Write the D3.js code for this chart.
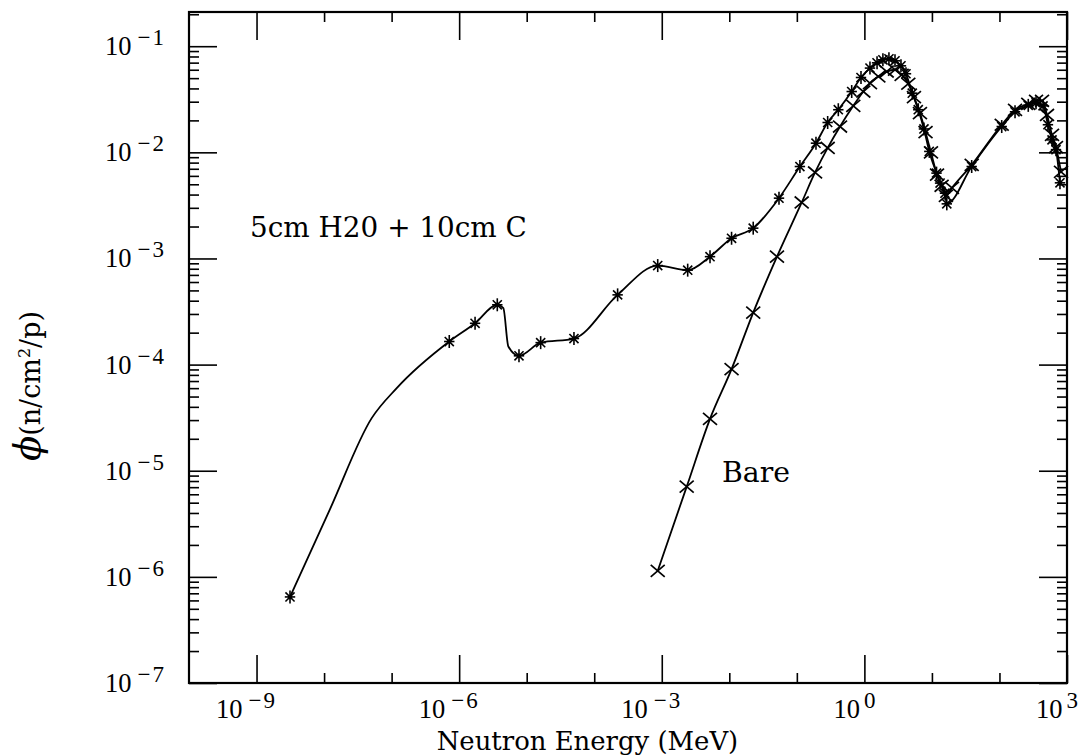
<!DOCTYPE html>
<html><head><meta charset="utf-8">
<script src="https://cdn.jsdelivr.net/npm/d3@7"></script>
<style>html,body{margin:0;padding:0;background:#fff;} svg{display:block}</style>
</head><body><svg id="c" width="1078" height="755"></svg>
<script>
// ---------- data ----------
const xMajorExp = [-9, -6, -3, 0, 3];
const xMinorExp = [-8, -7, -5, -4, -2, -1, 1, 2];
const yMajorExp = [-7, -6, -5, -4, -3, -2, -1];

// "5cm H20 + 10cm C" series (energy MeV, flux); starMark = 1 where a marker is drawn
const starE = [3.13e-9, 1.22e-8, 5.07e-8, 1.19e-7, 7.14e-7, 1.72e-6, 3.67e-6, 4.51e-6, 5.35e-6, 7.69e-6, 1.61e-5,
  5.01e-5, 2.22e-4, 8.71e-4, 2.42e-3, 5.18e-3, 1.08e-2, 2.26e-2, 5.44e-2, 0.111, 0.192,
  0.286, 0.411, 0.649, 0.891, 1.21, 1.54, 1.88, 2.31, 2.84, 3.48,
  4.13, 5.12, 6.28, 7.62, 9.14, 11.7, 13.2, 15.6, 16.6, 38.8,
  108, 170, 267, 348, 442, 522, 600, 687, 787];
const starPhi = [6.47e-7, 4.33e-6, 3.13e-5, 6.0e-5, 1.65e-4, 2.45e-4, 3.66e-4, 3.40e-4, 1.48e-4, 1.21e-4, 1.61e-4,
  1.76e-4, 4.54e-4, 8.57e-4, 7.76e-4, 1.04e-3, 1.55e-3, 1.93e-3, 3.70e-3, 7.35e-3, 1.22e-2,
  1.91e-2, 2.52e-2, 3.74e-2, 5.07e-2, 6.22e-2, 6.97e-2, 7.45e-2, 7.60e-2, 7.28e-2, 6.53e-2,
  5.50e-2, 3.61e-2, 2.52e-2, 1.66e-2, 1.02e-2, 6.37e-3, 5.13e-3, 4.12e-3, 3.27e-3, 7.35e-3,
  1.75e-2, 2.41e-2, 2.77e-2, 2.93e-2, 2.74e-2, 1.82e-2, 1.31e-2, 1.06e-2, 5.16e-3];
const starMark = [1, 0, 0, 0, 1, 1, 1, 0, 0, 1, 1,
  1, 1, 1, 1, 1, 1, 1, 1, 1, 1,
  1, 1, 1, 1, 1, 1, 1, 1, 1, 1,
  1, 1, 1, 1, 1, 1, 1, 1, 1, 1,
  1, 1, 1, 1, 1, 1, 1, 1, 1];

// "Bare" series
const bareE = [8.71e-4, 2.34e-3, 5.18e-3, 1.08e-2, 2.26e-2, 5.08e-2, 0.118, 0.186, 0.286, 0.436,
  0.685, 0.964, 1.21, 1.61, 2.14, 2.84, 3.56, 4.47, 5.42, 6.65,
  8.04, 9.68, 11.9, 13.9, 16.1, 19.8, 38.8, 108, 170, 267,
  348, 427, 506, 600, 687, 815];
const barePhi = [1.14e-6, 7.08e-6, 3.08e-5, 9.06e-5, 3.09e-4, 1.04e-3, 3.37e-3, 6.46e-3, 1.10e-2, 1.75e-2,
  2.74e-2, 3.74e-2, 4.49e-2, 5.18e-2, 5.77e-2, 6.00e-2, 5.37e-2, 4.43e-2, 3.31e-2, 2.34e-2,
  1.55e-2, 1.0e-2, 6.17e-3, 4.84e-3, 3.89e-3, 4.62e-3, 7.62e-3, 1.82e-2, 2.51e-2, 2.86e-2,
  3.06e-2, 3.06e-2, 2.25e-2, 1.46e-2, 1.12e-2, 6.55e-3];

const xTitle = "Neutron Energy (MeV)";
const annot1 = "5cm H20 + 10cm C";
const annot2 = "Bare";

// ---------- chart ----------
const svg = d3.select("#c");
svg.append("rect").attr("width", 1078).attr("height", 755).attr("fill", "#fff");

const L = 189, R = 1067, T = 12, B = 683;
const x = d3.scaleLog().domain([1e-10, 1e3]).range([L, R]);
const y = d3.scaleLog().domain([1e-7, 0.21]).range([B, T]);

const serif = "'Liberation Serif', 'Times New Roman', serif";
const wide = "'DejaVu Serif', serif";

// ticks
const yMinor = [];
yMajorExp.forEach(e => { if (e < -1) for (let k = 2; k <= 9; k++) yMinor.push(k * Math.pow(10, e)); });
yMinor.push(0.2);
const xMaj = xMajorExp.map(e => Math.pow(10, e));
const xMin = xMinorExp.map(e => Math.pow(10, e));
const yMaj = yMajorExp.map(e => Math.pow(10, e));

function styleAxis(g) {
  g.select(".domain").remove();
  g.selectAll("line").attr("stroke", "#000").attr("stroke-width", 1.6);
  g.selectAll("text").remove();
}
svg.append("g").attr("transform", `translate(0,${B})`).call(d3.axisBottom(x).tickValues(xMaj).tickSize(-28).tickFormat("")).call(styleAxis);
svg.append("g").attr("transform", `translate(0,${B})`).call(d3.axisBottom(x).tickValues(xMin).tickSize(-10).tickFormat("")).call(styleAxis);
svg.append("g").attr("transform", `translate(0,${T})`).call(d3.axisTop(x).tickValues(xMaj).tickSize(-28).tickFormat("")).call(styleAxis);
svg.append("g").attr("transform", `translate(0,${T})`).call(d3.axisTop(x).tickValues(xMin).tickSize(-10).tickFormat("")).call(styleAxis);
svg.append("g").attr("transform", `translate(${L},0)`).call(d3.axisLeft(y).tickValues(yMaj).tickSize(-28).tickFormat("")).call(styleAxis);
svg.append("g").attr("transform", `translate(${L},0)`).call(d3.axisLeft(y).tickValues(yMinor).tickSize(-10).tickFormat("")).call(styleAxis);
svg.append("g").attr("transform", `translate(${R},0)`).call(d3.axisRight(y).tickValues(yMaj).tickSize(-28).tickFormat("")).call(styleAxis);
svg.append("g").attr("transform", `translate(${R},0)`).call(d3.axisRight(y).tickValues(yMinor).tickSize(-10).tickFormat("")).call(styleAxis);

// frame
svg.append("rect").attr("x", L).attr("y", T).attr("width", R - L).attr("height", B - T)
  .attr("fill", "none").attr("stroke", "#000").attr("stroke-width", 2.2);

// tick labels
function powLabel(g, exp, xx, yy, anchor) {
  const t = g.append("text").attr("x", xx).attr("y", yy).attr("text-anchor", anchor)
    .attr("font-family", serif).attr("font-size", 26.5).attr("fill", "#000");
  t.append("tspan").text("10");
  t.append("tspan").attr("dy", -10).attr("font-size", 23).attr("dx", exp < 0 ? 6 : 4)
    .attr("letter-spacing", exp < 0 ? 2 : 0)
    .text(exp < 0 ? "\u2212" + Math.abs(exp) : String(exp));
  return t;
}
const lab = svg.append("g");
xMajorExp.forEach(e => powLabel(lab, e, x(Math.pow(10, e)) - 10, 718, "middle"));
yMajorExp.forEach(e => powLabel(lab, e, 166, y(Math.pow(10, e)) + 9, "end"));

// axis titles
function fit(t, w) {
  const fs = parseFloat(t.attr("font-size"));
  const len = t.node().getComputedTextLength();
  t.attr("font-size", fs * w / len);
}
const xt = svg.append("text").attr("x", 436.7).attr("y", 750).attr("font-family", wide)
  .attr("font-size", 26).attr("fill", "#000").text(xTitle);
fit(xt, 301.6);

const yt = svg.append("text").attr("transform", "translate(40,386) rotate(-90)")
  .attr("text-anchor", "middle").attr("font-family", wide).attr("font-size", 27).attr("fill", "#000");
yt.append("tspan").attr("font-style", "italic").attr("font-size", 37).text("\u03D5");
yt.append("tspan").text("(n/cm");
yt.append("tspan").attr("dy", -10).attr("font-size", 16).text("2");
yt.append("tspan").attr("dy", 10).text("/p)");

// annotations
const a1 = svg.append("text").attr("x", 250).attr("y", 237).attr("font-family", wide)
  .attr("font-size", 22).attr("fill", "#000").text(annot1);
fit(a1, 277);
const a2 = svg.append("text").attr("x", 722).attr("y", 481.7).attr("font-family", wide)
  .attr("font-size", 24).attr("fill", "#000").text(annot2);
fit(a2, 68);

// data
const star = starE.map((e, i) => ({ e, p: starPhi[i], m: starMark[i] }));
const bare = bareE.map((e, i) => ({ e, p: barePhi[i] }));
const line = d3.line().x(d => x(d.e)).y(d => y(d.p)).curve(d3.curveMonotoneX);

svg.append("path").datum(star).attr("d", line).attr("fill", "none").attr("stroke", "#000").attr("stroke-width", 1.8);
svg.append("path").datum(bare).attr("d", line).attr("fill", "none").attr("stroke", "#000").attr("stroke-width", 1.8);

// star markers
const sm = svg.append("g").attr("stroke", "#000").attr("stroke-width", 1.6).attr("fill", "#000");
star.filter(d => d.m).forEach(d => {
  const cx = x(d.e), cy = y(d.p), r = 6.5;
  const g = sm.append("g").attr("transform", `translate(${cx},${cy})`);
  g.append("line").attr("x1", 0).attr("y1", -r).attr("x2", 0).attr("y2", r);
  g.append("line").attr("x1", -r * 0.8).attr("y1", 0).attr("x2", r * 0.8).attr("y2", 0);
  g.append("line").attr("x1", -r * 0.7).attr("y1", -r * 0.7).attr("x2", r * 0.7).attr("y2", r * 0.7);
  g.append("line").attr("x1", -r * 0.7).attr("y1", r * 0.7).attr("x2", r * 0.7).attr("y2", -r * 0.7);
  g.append("circle").attr("r", 2.2).attr("stroke", "none");
});
// x markers
const xm = svg.append("g").attr("stroke", "#000").attr("stroke-width", 1.7);
bare.forEach(d => {
  const cx = x(d.e), cy = y(d.p), r = 7;
  const g = xm.append("g").attr("transform", `translate(${cx},${cy})`);
  g.append("line").attr("x1", -r).attr("y1", -r * 0.85).attr("x2", r).attr("y2", r * 0.85);
  g.append("line").attr("x1", -r).attr("y1", r * 0.85).attr("x2", r).attr("y2", -r * 0.85);
});
</script></body></html>
